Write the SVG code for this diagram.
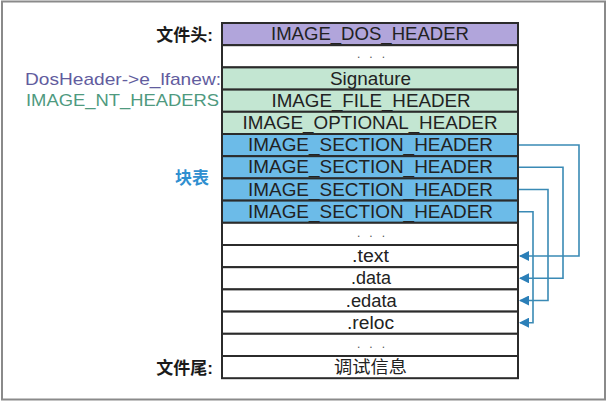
<svg xmlns="http://www.w3.org/2000/svg" width="607" height="402" viewBox="0 0 607 402">
<style>
.row{stroke:#2b2b2b;stroke-width:2}
.w{fill:#ffffff}
.p{fill:#b1a5db}
.g{fill:#c3e6d2}
.b{fill:#6cbbe8}
.t{font-family:"Liberation Sans",Arial,sans-serif;font-size:17.5px;fill:#222222;text-anchor:middle}
.dots{font-family:"Liberation Sans",Arial,sans-serif;font-size:12px;fill:#555;letter-spacing:9px}
.lab{font-family:"Liberation Sans","Noto Sans CJK SC",sans-serif;font-size:17px;font-weight:bold;fill:#1a1a1a;text-anchor:end}
.conn{fill:none;stroke:#3a8ab5;stroke-width:1.6}
</style>
<defs>
<marker id="arr" markerUnits="userSpaceOnUse" markerWidth="10" markerHeight="10" viewBox="0 0 10 10" refX="9" refY="5" orient="auto">
<path d="M0,0 L10,5 L0,10 Z" fill="#2b7fb8"/>
</marker>
</defs>
<rect x="2" y="1.5" width="603" height="398" fill="#ffffff" stroke="#8a8a8a" stroke-width="2"/>

<g id="label-head"><text class="lab" x="213" y="41">文件头:</text></g>
<g id="label-dos"><text class="lab" x="221" y="85" style="font-weight:normal;fill:#625c9e" textLength="196" lengthAdjust="spacingAndGlyphs">DosHeader-&gt;e_lfanew:</text></g>
<g id="label-nt"><text class="lab" x="219" y="106" style="font-weight:normal;fill:#4f9a7f" textLength="193" lengthAdjust="spacingAndGlyphs">IMAGE_NT_HEADERS</text></g>
<g id="label-blk"><text class="lab" x="209" y="184" style="fill:#2f8fd0">块表</text></g>
<g id="label-tail"><text class="lab" x="213" y="374">文件尾:</text></g>

<g id="row0"><rect class="row p" x="222" y="23" width="296" height="22.2"/><text class="t" x="370" y="40" textLength="198" lengthAdjust="spacingAndGlyphs">IMAGE_DOS_HEADER</text></g>
<g id="row1"><rect class="row w" x="222" y="45.2" width="296" height="22.2"/><text class="dots" x="357" y="58">...</text></g>
<g id="row2"><rect class="row g" x="222" y="67.4" width="296" height="22.2"/><text class="t" x="370.5" y="84.5" textLength="81" lengthAdjust="spacingAndGlyphs">Signature</text></g>
<g id="row3"><rect class="row g" x="222" y="89.6" width="296" height="22.2"/><text class="t" x="371" y="106.7" textLength="199" lengthAdjust="spacingAndGlyphs">IMAGE_FILE_HEADER</text></g>
<g id="row4"><rect class="row g" x="222" y="111.8" width="296" height="22.2"/><text class="t" x="370" y="128.9" textLength="255" lengthAdjust="spacingAndGlyphs">IMAGE_OPTIONAL_HEADER</text></g>
<g id="row5"><rect class="row b" x="222" y="134" width="296" height="22.2"/><text class="t" x="370.5" y="151.1" textLength="245" lengthAdjust="spacingAndGlyphs">IMAGE_SECTION_HEADER</text></g>
<g id="row6"><rect class="row b" x="222" y="156.2" width="296" height="22.2"/><text class="t" x="370.5" y="173.3" textLength="245" lengthAdjust="spacingAndGlyphs">IMAGE_SECTION_HEADER</text></g>
<g id="row7"><rect class="row b" x="222" y="178.4" width="296" height="22.2"/><text class="t" x="370.5" y="195.5" textLength="245" lengthAdjust="spacingAndGlyphs">IMAGE_SECTION_HEADER</text></g>
<g id="row8"><rect class="row b" x="222" y="200.6" width="296" height="22.2"/><text class="t" x="370.5" y="217.7" textLength="245" lengthAdjust="spacingAndGlyphs">IMAGE_SECTION_HEADER</text></g>
<g id="row9"><rect class="row w" x="222" y="222.8" width="296" height="22.2"/><text class="dots" x="357" y="236.5">...</text></g>
<g id="row10"><rect class="row w" x="222" y="245" width="296" height="22.2"/><text class="t" x="370.5" y="262.1" textLength="37" lengthAdjust="spacingAndGlyphs">.text</text></g>
<g id="row11"><rect class="row w" x="222" y="267.2" width="296" height="22.2"/><text class="t" x="371" y="284.3" textLength="40" lengthAdjust="spacingAndGlyphs">.data</text></g>
<g id="row12"><rect class="row w" x="222" y="289.4" width="296" height="22.2"/><text class="t" x="371.3" y="306.5" textLength="51" lengthAdjust="spacingAndGlyphs">.edata</text></g>
<g id="row13"><rect class="row w" x="222" y="311.6" width="296" height="22.2"/><text class="t" x="370.5" y="328.7" textLength="47" lengthAdjust="spacingAndGlyphs">.reloc</text></g>
<g id="row14"><rect class="row w" x="222" y="333.8" width="296" height="22.2"/><text class="dots" x="357" y="347.5">...</text></g>
<g id="row15"><rect class="row w" x="222" y="356" width="296" height="22.2"/><text class="t" x="370.5" y="373.3" style="font-family:'Noto Sans CJK SC',sans-serif;font-size:17px" textLength="73" lengthAdjust="spacingAndGlyphs">调试信息</text></g>

<g id="connectors">
<path class="conn" marker-end="url(#arr)" d="M519,145 H579 V256 H520"/>
<path class="conn" marker-end="url(#arr)" d="M519,167.3 H563 V278.3 H520"/>
<path class="conn" marker-end="url(#arr)" d="M519,189.5 H548 V300.5 H520"/>
<path class="conn" marker-end="url(#arr)" d="M519,211.7 H533 V322.7 H520"/>
</g>
</svg>
